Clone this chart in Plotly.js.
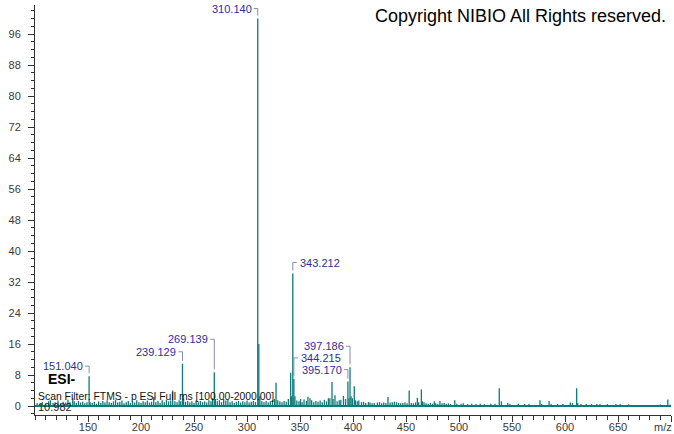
<!DOCTYPE html>
<html><head><meta charset="utf-8">
<script src="https://cdn.plot.ly/plotly-3.0.1.min.js"></script>
<style>html,body{margin:0;padding:0;background:#fff}#chart{width:674px;height:434px}</style>
</head><body><div id="chart"></div>
<script>
// ---- data ----
const peakMz = [
 102.0,104.5,107.0,110.0,112.9,114.5,117.0,119.0,121.7,124.0,126.5,129.0,131.1,133.0,135.6,137.0,139.0,141.0,143.0,145.0,147.0,149.0,
 151.040,152.04,154.0,156.0,158.0,160.0,162.0,164.0,166.0,168.0,170.0,172.0,174.0,176.0,178.0,180.0,182.0,184.0,186.0,188.0,190.0,192.0,194.0,196.0,198.0,
 200.0,202.0,204.0,206.0,208.0,210.0,212.0,214.0,216.0,218.0,220.0,222.0,224.0,226.0,228.0,229.9,232.0,234.0,236.0,237.5,239.129,240.13,242.0,244.0,246.0,248.0,
 250.0,252.0,254.0,256.0,258.0,260.0,262.0,264.0,266.0,267.5,269.139,270.14,272.0,274.0,276.0,278.0,280.0,282.0,284.0,286.0,288.0,290.0,292.0,294.0,296.0,298.0,
 300.0,302.0,304.0,306.0,308.0,310.140,311.143,312.15,314.0,316.0,318.0,320.0,322.0,324.0,326.0,327.4,329.0,331.0,333.0,335.0,337.0,339.0,341.2,342.2,343.212,344.215,345.2,347.0,349.0,
 350.5,352.0,353.8,356.0,357.5,359.4,361.0,363.0,365.0,367.0,369.0,371.0,373.0,375.0,376.8,378.2,380.2,381.2,383.0,385.0,387.0,388.5,391.0,393.0,395.170,396.17,397.186,398.19,399.4,
 401.2,402.2,404.0,405.5,408.0,410.0,412.0,414.5,416.0,418.0,420.0,423.0,425.0,427.0,429.0,431.0,433.0,435.0,437.0,439.0,441.0,443.0,445.0,447.0,449.0,
 451.0,453.0,455.0,457.0,459.0,460.7,462.0,464.5,465.5,467.0,469.0,471.0,473.0,475.0,476.7,478.0,480.0,482.0,484.0,486.0,488.0,490.0,492.0,496.0,498.0,
 502.0,504.0,508.0,512.0,516.0,520.0,524.0,530.0,534.0,538.0,540.0,546.0,548.0,556.0,562.0,566.0,576.4,578.0,585.0,587.0,593.0,598.0,
 605.0,607.0,611.0,612.0,615.0,620.0,625.0,630.0,633.0,640.0,648.0,652.0,660.0,690.0,697.0,699.0
];
const peakInt = [
 0.8,0.6,1.0,0.7,1.2,1.5,0.8,1.0,1.4,0.7,1.1,0.9,1.6,1.0,2.0,1.2,0.8,1.3,0.9,1.1,0.7,1.0,
 7.7,1.0,0.8,1.1,0.6,1.2,0.8,1.3,0.9,1.5,1.0,0.8,1.2,1.6,0.9,1.1,1.4,0.7,1.0,1.3,0.8,1.2,0.9,1.5,1.0,
 0.8,1.2,1.0,1.4,0.9,1.1,2.3,1.0,1.3,0.8,1.5,1.0,1.6,1.2,1.4,4.0,1.2,1.0,1.5,1.2,10.9,1.8,1.1,1.3,0.9,1.2,
 0.8,1.4,1.0,1.3,1.0,1.2,0.9,1.5,1.2,2.0,8.7,1.8,1.2,1.5,1.0,1.8,1.4,1.6,1.0,1.2,0.8,1.1,1.3,0.9,1.2,1.0,
 1.4,0.9,1.1,1.3,1.0,100,16.0,2.5,1.2,1.0,1.3,0.9,1.2,1.5,1.8,6.0,1.5,1.2,1.0,1.3,1.1,1.8,8.6,2.5,34.2,7.0,2.5,1.4,1.2,
 1.8,1.0,1.7,1.3,2.4,2.0,1.5,1.0,1.3,1.1,1.4,1.0,1.6,1.2,2.0,2.0,6.2,1.8,2.8,1.2,1.5,1.6,2.6,1.8,6.3,2.0,10.0,2.5,2.0,
 5.1,1.5,1.2,1.4,1.0,1.1,0.8,1.0,0.9,0.7,0.8,0.9,1.0,0.7,0.9,0.8,2.3,0.9,1.0,1.1,1.0,0.8,0.7,0.8,0.9,
 0.7,4.0,0.8,0.7,0.9,2.1,1.0,4.3,1.2,1.0,0.7,0.6,0.8,0.6,1.2,0.7,0.6,1.3,0.7,0.8,0.6,0.7,0.5,1.5,0.6,
 0.6,0.7,0.5,0.6,0.5,0.6,0.5,0.6,0.6,4.6,1.2,0.8,0.5,0.6,0.5,0.5,1.5,0.5,1.3,0.5,0.5,0.5,
 0.9,0.8,4.6,0.8,0.5,0.5,0.5,0.5,0.5,0.5,0.5,0.5,0.4,0.4,1.7,0.3
];
const labelMz = [151.040, 239.129, 269.139, 310.140, 343.212, 344.215, 395.170, 397.186];
const xTickVals = [150,200,250,300,350,400,450,500,550,600,650,700];
const xTickText = ['150','200','250','300','350','400','450','500','550','600','650',''];
const xAxisUnit = 'm/z';
const yTickVals = [0,8,16,24,32,40,48,56,64,72,80,88,96];

// ---- label placement styles (pixels) ----
const labelStyle = {
  151.040:{side:'L',lift:10}, 239.129:{side:'L',lift:12}, 269.139:{side:'L',lift:33},
  310.140:{side:'L',lift:10}, 343.212:{side:'R',lift:11}, 344.215:{side:'R',lift:21},
  395.170:{side:'L',lift:12}, 397.186:{side:'L',lift:21}
};

const lineColor = '#0b7b78';
const xs = [], ys = [];
peakMz.forEach((m,i)=>{ xs.push(m,m,null); ys.push(0,peakInt[i],null); });

const annotations = [], shapes = [];
const labFont = {family:'Liberation Sans, Arial, sans-serif', size:11, color:'#2d2d9c'};
const brColor = '#8a8ab0';
labelMz.forEach(m=>{
  const h = peakInt[peakMz.indexOf(m)];
  const st = labelStyle[m];
  const left = st.side === 'L';
  annotations.push({x:m, y:h, xref:'x', yref:'y', text:m.toFixed(3), showarrow:false,
    xanchor:left?'right':'left', yanchor:'middle', xshift:left?-4:5, yshift:st.lift, font:labFont});
  shapes.push({type:'line', xref:'x', yref:'y', xsizemode:'pixel', ysizemode:'pixel', xanchor:m, yanchor:h,
    x0:left?-4:0, x1:left?0:4, y0:st.lift, y1:st.lift, line:{color:brColor, width:1}});
  shapes.push({type:'line', xref:'x', yref:'y', xsizemode:'pixel', ysizemode:'pixel', xanchor:m, yanchor:h,
    x0:0, x1:0, y0:st.lift, y1:3, line:{color:brColor, width:1}});
});

const txtFont = 'Liberation Sans, Arial, sans-serif';
const tickFont = {family:txtFont, size:11, color:'#3a3a3a'};
annotations.push(
  {xref:'paper', yref:'paper', x:0.995, y:0.973, xanchor:'right', yanchor:'middle', showarrow:false,
   text:'Copyright NIBIO All Rights reserved.', font:{family:txtFont, size:18, color:'#000'}},
  {xref:'paper', yref:'paper', x:0.017, y:0.0878, xanchor:'left', yanchor:'middle', showarrow:false,
   text:'<b>ESI-</b>', font:{family:txtFont, size:14, color:'#000'}},
  {xref:'paper', yref:'paper', x:0.0015, y:0.0463, xanchor:'left', yanchor:'middle', showarrow:false,
   text:'Scan Filter: FTMS - p ESI Full ms [100.00-2000.00]', font:{family:txtFont, size:10.4, color:'#111'}},
  {xref:'paper', yref:'paper', x:0.0015, y:0.0195, xanchor:'left', yanchor:'middle', showarrow:false,
   text:'10.982', font:{family:txtFont, size:11, color:'#222'}},
  {xref:'paper', yref:'paper', x:1, y:0, xanchor:'right', yanchor:'middle', xshift:3, yshift:-12, showarrow:false,
   text:xAxisUnit, font:tickFont}
);

const trace = {x:xs, y:ys, type:'scatter', mode:'lines', line:{color:lineColor, width:1.3},
  connectgaps:false, hoverinfo:'skip', showlegend:false};

const layout = {
  width:674, height:434,
  margin:{l:35, r:3, t:5, b:19, pad:0},
  paper_bgcolor:'#fff', plot_bgcolor:'#fff',
  xaxis:{range:[100,700], showgrid:false, zeroline:false, showline:true, linecolor:'#333', linewidth:1,
    ticks:'outside', ticklen:6, tickcolor:'#333', tickmode:'array', tickvals:xTickVals, ticktext:xTickText,
    tickfont:tickFont, ticklabelstandoff:-4,
    minor:{dtick:10, ticks:'outside', ticklen:4, tickcolor:'#333', showgrid:false}},
  yaxis:{range:[-2.32,103.5], showgrid:false, zeroline:true, zerolinecolor:lineColor, zerolinewidth:1.5,
    showline:true, linecolor:'#333', linewidth:1, ticks:'outside', ticklen:6, tickcolor:'#333',
    tickmode:'array', tickvals:yTickVals, tickfont:tickFont, ticklabelstandoff:5,
    minor:{dtick:2, ticks:'outside', ticklen:3, tickcolor:'#333', showgrid:false}},
  annotations:annotations, shapes:shapes
};
Plotly.newPlot('chart', [trace], layout, {staticPlot:true, displayModeBar:false});
</script>
</body></html>
